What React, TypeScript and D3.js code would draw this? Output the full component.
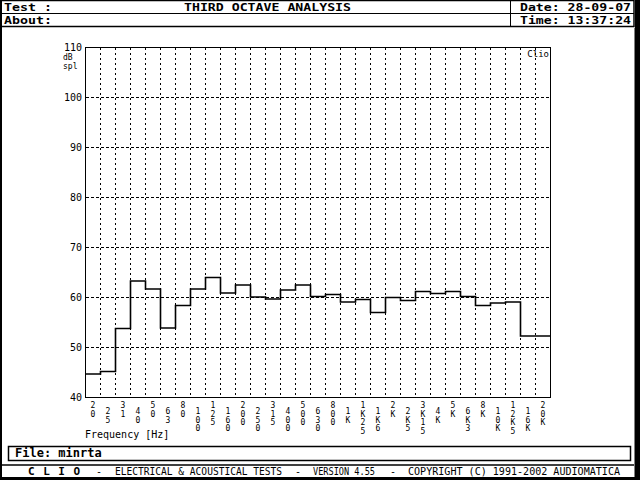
import React from "react";
import * as d3 from "d3";

const bands = ["20","25","31","40","50","63","80","100","125","160","200","250","315","400","500","630","800","1K","1K25","1K6","2K","2K5","3K15","4K","5K","6K3","8K","10K","12K5","16K","20K"];
const levels = [44.7,45.2,53.8,63.3,61.7,53.9,58.4,61.7,64.0,60.9,62.5,60.1,59.7,61.5,62.5,60.2,60.6,59.1,59.6,57.0,60.0,59.4,61.2,60.8,61.2,60.2,58.4,58.9,59.1,52.3,52.3];
const yTicks = [40,50,60,70,80,90,100,110];

const W = 640, H = 480;
const L = 85.5, R = 550.5, T = 47.5, B = 397.5;
const mono = "'DejaVu Sans Mono', monospace";

export default function App() {
  const x = d3.scaleBand<string>().domain(bands).range([L, R]).padding(0);
  const y = d3.scaleLinear().domain([40, 110]).range([B, T]);
  const pts: [number, number][] = bands.map((b, i) => [x(b)!, y(levels[i])]);
  pts.push([R, y(levels[levels.length - 1])]);
  const path = d3.line().curve(d3.curveStepAfter)(pts) || "";
  const bounds = bands.slice(1).map((b) => x(b)!);

  return (
    <svg width={W} height={H} style={{ position: "absolute", left: 0, top: 0, background: "#fff" }} fontFamily={mono}>
      <rect x={0} y={0} width={W} height={H} fill="#000" />
      <rect x={2} y={2} width={632.5} height={475} fill="#fff" />
      <rect x={0} y={0} width={635} height={28} fill="#fff" />
      <rect x={0} y={0} width={2} height={H} fill="#000" />
      {/* header */}
      <rect x={1} y={0.5} width={633} height={26} fill="none" stroke="#000" strokeWidth={1.5} />
      <line x1={1} x2={634} y1={13.5} y2={13.5} stroke="#000" />
      <line x1={510.5} x2={510.5} y1={0} y2={27} stroke="#000" />
      <g fontWeight="bold" fontSize={11} fill="#000" lengthAdjust="spacingAndGlyphs">
        <text x={4} y={11} textLength={48} lengthAdjust="spacingAndGlyphs">Test :</text>
        <text x={4} y={24} textLength={48} lengthAdjust="spacingAndGlyphs">About:</text>
        <text x={184} y={11} textLength={167} lengthAdjust="spacingAndGlyphs">THIRD OCTAVE ANALYSIS</text>
        <text x={520} y={11} textLength={111} lengthAdjust="spacingAndGlyphs">Date: 28-09-07</text>
        <text x={520} y={24} textLength={111} lengthAdjust="spacingAndGlyphs">Time: 13:37:24</text>
      </g>

      {/* grid */}
      <g stroke="#000" strokeWidth={1} shapeRendering="crispEdges">
        {yTicks.filter((t) => t > 40 && t < 110).map((t) => (
          <line key={t} x1={L} x2={R} y1={y(t)} y2={y(t)} strokeDasharray="3,2" />
        ))}
        {bounds.map((bx, i) => (
          <line key={i} x1={bx} x2={bx} y1={T} y2={B} strokeDasharray="2,3" />
        ))}
        <rect x={L} y={T} width={R - L} height={B - T} fill="none" />
      </g>

      {/* y labels */}
      <g fontSize={10} fill="#000" textAnchor="end">
        {yTicks.map((t) => (
          <text key={t} x={82} y={y(t) + 3.5}>{t}</text>
        ))}
      </g>
      <g fontSize={8} fill="#000">
        <text x={63} y={60}>dB</text>
        <text x={63} y={69}>spl</text>
        <text x={549} y={57} textAnchor="end" fontSize={9}>Clio</text>
      </g>

      {/* x labels */}
      <g fontSize={8} fill="#000" textAnchor="middle">
        {bands.map((b, i) => {
          const cx = x(b)! + x.bandwidth() / 2;
          const y0 = i % 2 === 0 ? 408 : 414;
          return b.split("").map((ch, j) => (
            <text key={b + j} x={cx} y={y0 + j * 8.5}>{ch}</text>
          ));
        })}
      </g>
      <text x={85} y={438} fontSize={10} fill="#000">Frequency [Hz]</text>

      {/* data */}
      <path d={path} fill="none" stroke="#000" strokeWidth={1.6} />

      {/* footer */}
      <rect x={8.5} y={446.5} width={622} height={14} fill="none" stroke="#000" strokeWidth={1.5} />
      <text x={15} y={457} fontSize={12} fontWeight="bold" fill="#000">File: minrta</text>
      <line x1={2} x2={634} y1={465} y2={465} stroke="#000" strokeWidth={1.5} />
      <g fontSize={10} fill="#000">
        <text x={28} y={475} fontWeight="bold" fontSize={11} textLength={52} lengthAdjust="spacing">C L I O</text>
        <text x={96} y={475}>-</text>
        <text x={115} y={475} textLength={167} lengthAdjust="spacingAndGlyphs">ELECTRICAL &amp; ACOUSTICAL TESTS</text>
        <text x={295} y={475}>-</text>
        <text x={313} y={475} textLength={62} lengthAdjust="spacingAndGlyphs">VERSION 4.55</text>
        <text x={390} y={475}>-</text>
        <text x={408} y={475} textLength={212} lengthAdjust="spacingAndGlyphs">COPYRIGHT (C) 1991-2002 AUDIOMATICA</text>
      </g>
    </svg>
  );
}
